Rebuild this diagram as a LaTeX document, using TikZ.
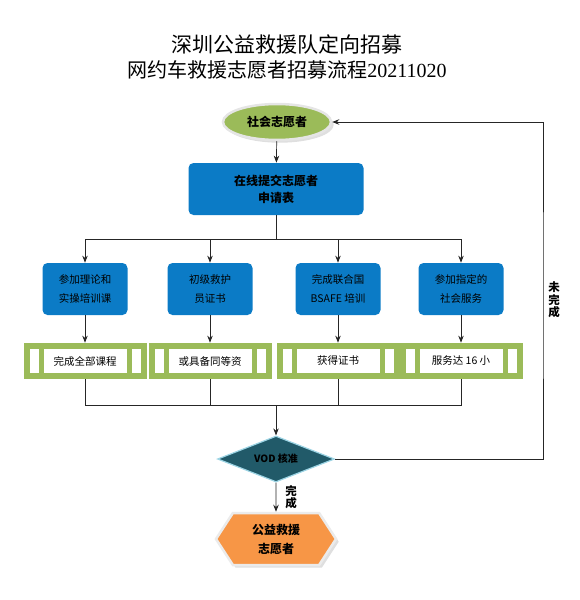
\documentclass[tikz,border=0pt]{standalone}
\usepackage{fontspec}
\setmainfont{Noto Sans CJK SC}
\newfontfamily\titleserif{Liberation Serif}
\usetikzlibrary{shapes.geometric,shapes.symbols,shadows,arrows.meta}
\definecolor{volgreen}{HTML}{9BBB59}
\definecolor{volblue}{HTML}{0B7BC6}
\definecolor{volteal}{HTML}{215A69}
\definecolor{volcyan}{HTML}{9CD4E4}
\definecolor{volorange}{HTML}{F79646}

\begin{document}
\begin{tikzpicture}[x=1pt,y=-1pt,->,>={Stealth[length=7pt,width=5.5pt]},line width=0.7pt,draw=black!85,
    start node/.style={ellipse,fill=volgreen,draw=black!10,line width=2.5pt,minimum width=108pt,minimum height=36pt,inner sep=0pt,drop shadow={opacity=0.25},font=\fontsize{12}{14}\selectfont\bfseries},
    form node/.style={rectangle,rounded corners=5pt,fill=volblue,minimum width=175pt,minimum height=52pt,align=center,font=\fontsize{12}{17}\selectfont\bfseries},
    task node/.style={rectangle,rounded corners=5pt,fill=volblue,minimum width=85pt,minimum height=52pt,align=center,font=\fontsize{10.5}{19}\selectfont},
    bar node/.style={rectangle,fill=volgreen,minimum width=123pt,minimum height=36pt,font=\fontsize{10.5}{12}\selectfont,
        path picture={
            \fill[white] ([xshift=6pt,yshift=-6pt]path picture bounding box.north west) rectangle ([xshift=15pt,yshift=6pt]path picture bounding box.south west);
            \fill[white] ([xshift=20pt,yshift=-6pt]path picture bounding box.north west) rectangle ([xshift=-20pt,yshift=6pt]path picture bounding box.south east);
            \fill[white] ([xshift=-15pt,yshift=-6pt]path picture bounding box.north east) rectangle ([xshift=-6pt,yshift=6pt]path picture bounding box.south east);
        }},
    check node/.style={diamond,aspect=2.5,fill=volteal,draw=volcyan,line width=1.2pt,minimum width=117pt,minimum height=46pt,inner sep=0pt,font=\fontsize{10}{12}\selectfont\bfseries},
    end node/.style={signal,signal to=west and east,signal pointer angle=114,fill=volorange,draw=black!8,line width=2.5pt,minimum width=120pt,minimum height=52pt,align=center,drop shadow={opacity=0.25},font=\fontsize{12}{19}\selectfont\bfseries},
    note/.style={align=center,inner sep=0pt,font=\fontsize{11.5}{12.5}\selectfont\bfseries}]

    \useasboundingbox (0,0) rectangle (579,600);

    % title
    \node (t1) at (287,44) {\fontsize{21}{24}\selectfont 深圳公益救援队定向招募};
    \node (t2) at (287,70) {\fontsize{20}{24}\selectfont 网约车救援志愿者招募流程{\titleserif 20211020}};

    \node[start node] (1) at (277,122) {社会志愿者};
    \node[form node] (2) at (276,189) {在线提交志愿者\\申请表};

    \node[task node] (3) at (85,289) {参加理论和\\实操培训课};
    \node[task node] (4) at (210,289) {初级救护\\员证书};
    \node[task node] (5) at (338,289) {完成联合国\\BSAFE 培训};
    \node[task node] (6) at (461,289) {参加指定的\\社会服务};

    \node[bar node] (7) at (85,361) {完成全部课程};
    \node[bar node] (8) at (210,361) {或具备同等资};
    \node[bar node] (9) at (338,361) {获得证书};
    \node[bar node] (10) at (461,361) {服务达 16 小};

    \node[check node] (11) at (276,459) {VOD 核准};
    \node[end node] (12) at (276,539) {公益救援\\志愿者};

    \coordinate (split) at (276,239);
    \coordinate (join) at (276,405);
    \coordinate (back) at (543,300);

    \draw (1) -- (2);
    \draw[-] (2) -- (split);
    \foreach \n in {3,4,5,6} \draw (split) -| (\n);
    \foreach \n in {3,4,5,6} {
        \pgfmathtruncatemacro\m{\n+4}
        \draw (\n) -- (\m);
        \draw[-] (\m) |- (join);
    }
    \draw (join) -- (11);
    \draw (11) -- node[note,right=9pt] (ok) {完\\成} (12);
    \draw (11.east) -| (back) |- (1.east);
    \node[note] (notok) at (554,300) {未\\完\\成};
\end{tikzpicture}
\end{document}
